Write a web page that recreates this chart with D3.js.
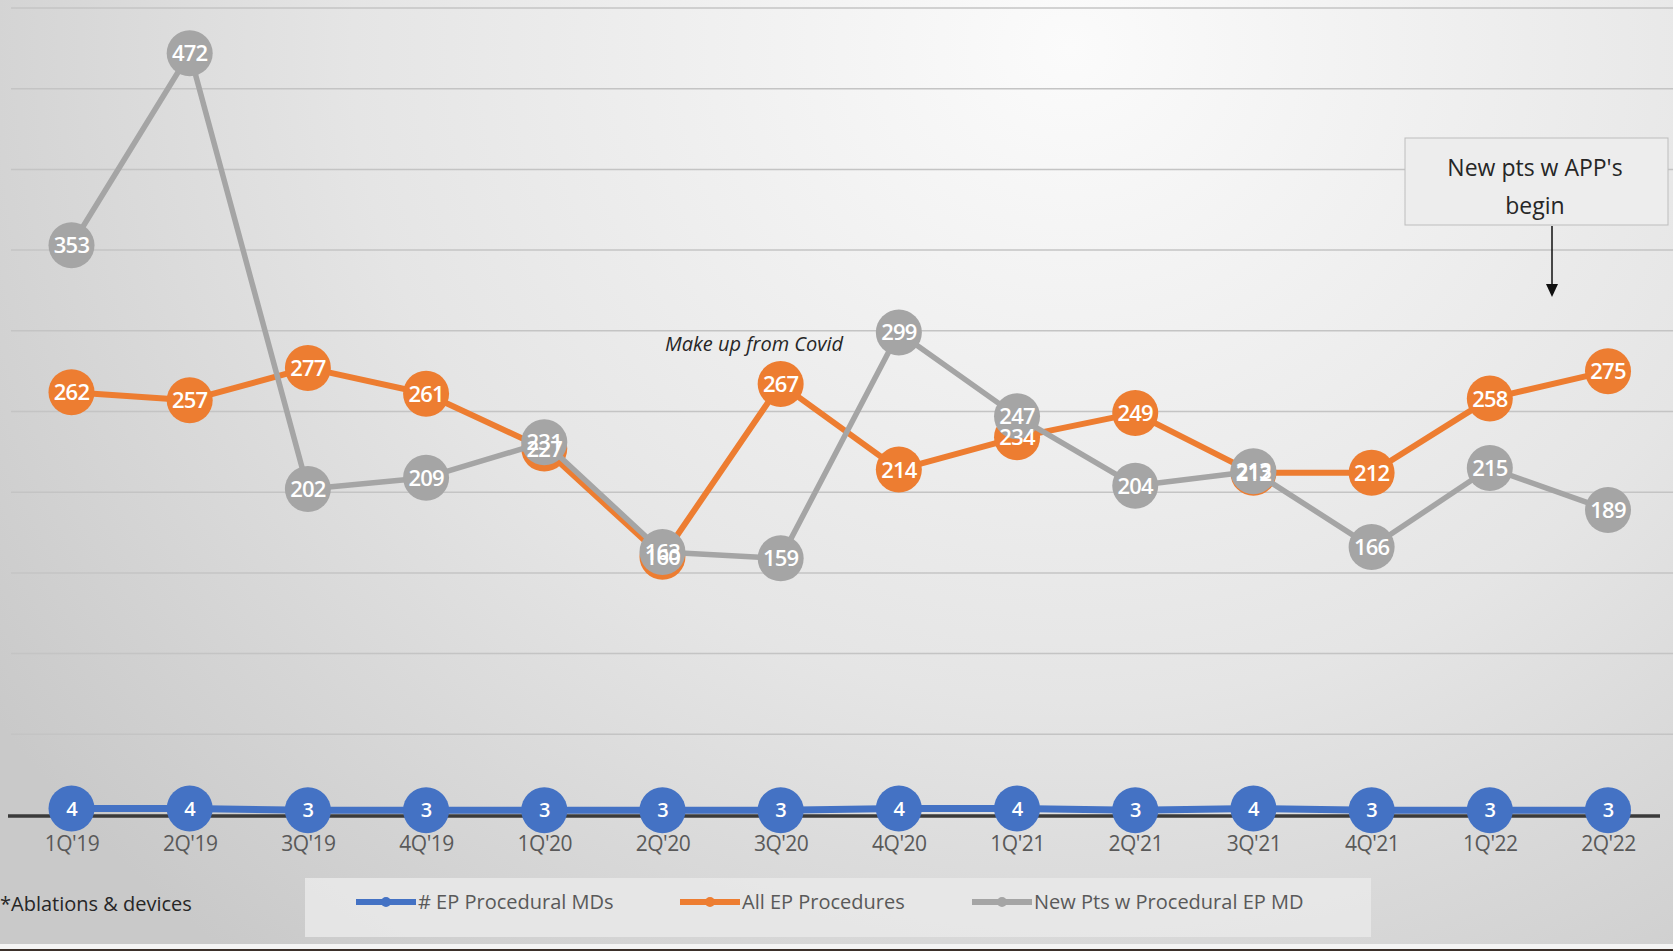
<!DOCTYPE html>
<html><head><meta charset="utf-8">
<script src="https://cdn.jsdelivr.net/npm/d3@7/dist/d3.min.js"></script>
<style>html,body{margin:0;padding:0;background:#fff;overflow:hidden}svg{display:block}</style>
</head><body>
<script>
const categories = ["1Q'19","2Q'19","3Q'19","4Q'19","1Q'20","2Q'20","3Q'20","4Q'20","1Q'21","2Q'21","3Q'21","4Q'21","1Q'22","2Q'22"];
const epMDs = [4,4,3,3,3,3,3,4,4,3,4,3,3,3];
const allProcedures = [262,257,277,261,227,160,267,214,234,249,212,212,258,275];
const newPts = [353,472,202,209,231,163,159,299,247,204,213,166,215,189];
const seriesNames = ["# EP Procedural MDs","All EP Procedures","New Pts w Procedural EP MD"];
const yTicks = [50,100,150,200,250,300,350,400,450,500];

const W = 1673, H = 951;
const colors = ["#4472C4","#ED7D31","#A5A5A5"];
const svg = d3.select("body").append("svg").attr("width", W).attr("height", H);
const defs = svg.append("defs");
const rg = defs.append("radialGradient").attr("id","bg").attr("cx","0.64").attr("cy","0.05").attr("r","0.78")
  .attr("gradientTransform","translate(0.64,0.05) scale(1,1.6) translate(-0.64,-0.05)");
rg.append("stop").attr("offset","0").attr("stop-color","#fbfbfb");
rg.append("stop").attr("offset","0.55").attr("stop-color","#e5e5e5");
rg.append("stop").attr("offset","1").attr("stop-color","#c9c9c9");
svg.append("rect").attr("width",W).attr("height",H).attr("fill","url(#bg)");

const x = d3.scalePoint().domain(categories).range([71.5, 1608]);
const y = d3.scaleLinear().domain([0,500]).range([815, 8]);

// gridlines
svg.append("g").selectAll("line").data(yTicks).join("line")
  .attr("x1", 11).attr("x2", W).attr("y1", d=>y(d)).attr("y2", d=>y(d))
  .attr("stroke","#c4c4c4").attr("stroke-width",1.5);

// x axis
const xAxis = svg.append("g").attr("transform",`translate(0,${y(0)})`)
  .call(d3.axisBottom(x).tickSize(0).tickPadding(21));
xAxis.select(".domain").remove();
xAxis.selectAll("text").attr("font-family","'Open Sans',sans-serif").attr("font-size",21).attr("fill","#595959").attr("letter-spacing",-0.5);
svg.append("line").attr("x1",8).attr("x2",1660).attr("y1",y(0)+1).attr("y2",y(0)+1)
  .attr("stroke","#3a3a3a").attr("stroke-width",3.5);

const series = [epMDs, allProcedures, newPts];
const lineGen = d3.line().x((d,i)=>x(categories[i])).y(d=>y(d));
const widths = [7,6,5.5];
series.forEach((s,k)=>{
  svg.append("path").datum(s).attr("d",lineGen).attr("fill","none")
    .attr("stroke",colors[k]).attr("stroke-width",widths[k]).attr("stroke-linejoin","round");
  svg.append("g").selectAll("circle").data(s).join("circle")
    .attr("cx",(d,i)=>x(categories[i])).attr("cy",d=>y(d)).attr("r",23)
    .attr("fill",colors[k]);
});
// labels on top
series.forEach((s,k)=>{
  svg.append("g").selectAll("text").data(s).join("text")
    .attr("x",(d,i)=>x(categories[i])).attr("y",d=>y(d)).attr("dy","0.36em")
    .attr("text-anchor","middle").attr("fill","#fff")
    .attr("font-family","'Open Sans',sans-serif").attr("font-weight",600)
    .attr("font-size", k===0 ? 20 : 22).attr("letter-spacing",-0.8)
    .text(d=>d);
});

// annotation: Make up from Covid
svg.append("text").attr("x",665).attr("y",344).attr("dy","0.35em")
  .attr("font-family","'Open Sans',sans-serif").attr("font-style","italic").attr("font-size",20)
  .attr("fill","#262626").text("Make up from Covid");

// annotation box
svg.append("rect").attr("x",1405).attr("y",138).attr("width",263).attr("height",87)
  .attr("fill","#ededed").attr("stroke","#bdbdbd").attr("stroke-width",1);
svg.append("text").attr("x",1535).attr("y",168).attr("dy","0.35em").attr("text-anchor","middle")
  .attr("font-family","'Open Sans',sans-serif").attr("font-size",23).attr("fill","#262626").text("New pts w APP's");
svg.append("text").attr("x",1535).attr("y",206).attr("dy","0.35em").attr("text-anchor","middle")
  .attr("font-family","'Open Sans',sans-serif").attr("font-size",23).attr("fill","#262626").text("begin");
svg.append("line").attr("x1",1552).attr("x2",1552).attr("y1",226).attr("y2",285)
  .attr("stroke","#111").attr("stroke-width",1.5);
svg.append("path").attr("d","M1546,284 L1558,284 L1552,297 Z").attr("fill","#111");

// footnote
svg.append("text").attr("x",0).attr("y",904).attr("dy","0.35em")
  .attr("font-family","'Open Sans',sans-serif").attr("font-size",20).attr("fill","#262626").text("*Ablations & devices");

// legend
svg.append("rect").attr("x",305).attr("y",878).attr("width",1066).attr("height",59).attr("fill","#e8e8e8").attr("opacity",0.9);
const legX = [356, 680, 972];
const lg = svg.append("g").selectAll("g").data(seriesNames).join("g")
  .attr("transform",(d,i)=>`translate(${legX[i]},902)`);
lg.append("line").attr("x1",0).attr("x2",60).attr("y1",0).attr("y2",0)
  .attr("stroke",(d,i)=>colors[i]).attr("stroke-width",6);
lg.append("circle").attr("cx",30).attr("cy",0).attr("r",5).attr("fill",(d,i)=>colors[i]);
lg.append("text").attr("x",62).attr("y",0).attr("dy","0.35em")
  .attr("font-family","'Open Sans',sans-serif").attr("font-size",20).attr("fill","#595959").text(d=>d);

// bottom strip
svg.append("rect").attr("x",0).attr("y",944).attr("width",W).attr("height",5).attr("fill","#f4f4f4");
svg.append("rect").attr("x",0).attr("y",949).attr("width",W).attr("height",2).attr("fill","#3b302a");
</script>
</body></html>
